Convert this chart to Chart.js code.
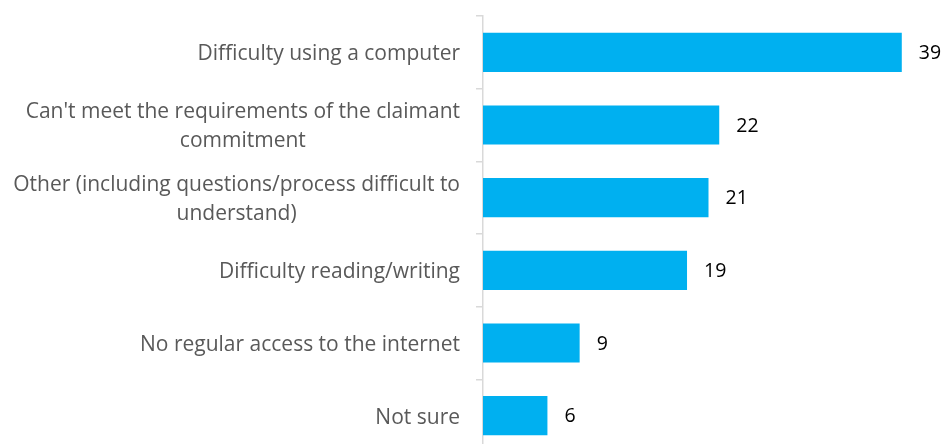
<!DOCTYPE html>
<html>
<head>
<meta charset="utf-8">
<script src="https://cdn.jsdelivr.net/npm/chart.js@4.4.0/dist/chart.umd.min.js"></script>
<style>
  html, body { margin: 0; padding: 0; background: #fff; overflow: hidden; }
  #wrap { width: 943px; height: 452px; }
</style>
</head>
<body>
<div id="wrap"><canvas id="reasons"></canvas></div>
<script>
  // reasons, one entry per bar (array = wrapped label lines)
  const categories = [
    ["Difficulty using a computer"],
    ["Can't meet the requirements of the claimant", "commitment"],
    ["Other (including questions/process difficult to", "understand)"],
    ["Difficulty reading/writing"],
    ["No regular access to the internet"],
    ["Not sure"],
  ];
  const values = [39, 22, 21, 19, 9, 6];

  const labelFont = '21px "Open Sans", sans-serif';
  const valueFont = '19.5px "Open Sans", sans-serif';

  // category labels: block right-aligned against the axis, lines centred inside it
  const categoryLabels = {
    id: "categoryLabels",
    afterDraw(chart) {
      const ctx = chart.ctx,
        y = chart.scales.y,
        right = chart.chartArea.left - 23,
        lineH = 29;
      ctx.save();
      ctx.font = labelFont;
      ctx.fillStyle = "#595959";
      ctx.textAlign = "center";
      ctx.textBaseline = "middle";
      categories.forEach((lines, i) => {
        const cy = y.getPixelForValue(i) + 2;
        const w = Math.max(...lines.map((l) => ctx.measureText(l).width));
        const cx = right - w / 2;
        lines.forEach((l, j) => {
          ctx.fillText(l, cx, cy + (j - (lines.length - 1) / 2) * lineH);
        });
      });
      ctx.restore();
    },
  };

  // numbers just past the end of each bar
  const valueLabels = {
    id: "valueLabels",
    afterDatasetsDraw(chart) {
      const ctx = chart.ctx,
        meta = chart.getDatasetMeta(0);
      ctx.save();
      ctx.font = valueFont;
      ctx.fillStyle = "#000";
      ctx.textAlign = "left";
      ctx.textBaseline = "middle";
      meta.data.forEach((bar, i) => {
        ctx.fillText(String(values[i]), bar.x + 17, bar.y + 1);
      });
      ctx.restore();
    },
  };

  new Chart(document.getElementById("reasons"), {
    type: "bar",
    data: {
      labels: categories.map((c) => c.join(" ")),
      datasets: [
        {
          data: values,
          backgroundColor: "#00B0F0",
          borderWidth: 0,
          categoryPercentage: 1,
          barPercentage: 0.54,
        },
      ],
    },
    options: {
      indexAxis: "y",
      responsive: true,
      maintainAspectRatio: false,
      animation: false,
      layout: { padding: { top: 16, right: 9, bottom: 0, left: 0 } },
      plugins: {
        legend: { display: false },
        tooltip: { enabled: false },
      },
      scales: {
        x: {
          display: false,
          min: 0,
          max: 42,
        },
        y: {
          ticks: { display: false },
          grid: {
            drawOnChartArea: false,
            tickLength: 7,
            color: "#d9d9d9",
            lineWidth: 1.5,
          },
          border: { color: "#d9d9d9", width: 1.5 },
          afterFit: (s) => {
            s.width = 483;
          },
        },
      },
    },
    plugins: [categoryLabels, valueLabels],
  });
</script>
</body>
</html>
